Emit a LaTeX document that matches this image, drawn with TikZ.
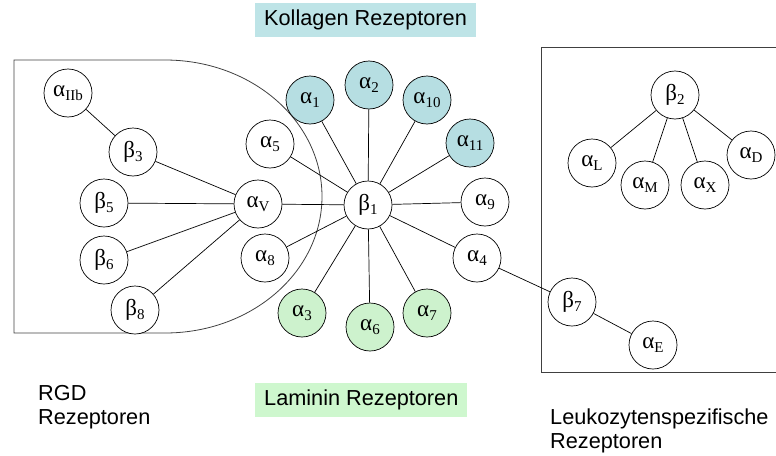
\documentclass[tikz,border=0pt]{standalone}
\usepackage{fontspec}
\usetikzlibrary{positioning}
\newfontfamily\tagfont{Liberation Sans}
\newfontfamily\symfont{Liberation Serif}
\definecolor{kollcyan}{RGB}{182,222,226}
\definecolor{kollbox}{RGB}{190,228,231}
\definecolor{lamgreen}{RGB}{205,242,205}
\definecolor{lambox}{RGB}{206,247,206}
\newcommand{\intg}[2]{#1\raisebox{-0.4ex}{\fontsize{15}{15}\selectfont #2}}
\tikzset{
  x=1pt, y=-1pt,
  rez/.style={draw, circle, minimum size=48pt, inner sep=0pt, fill=white, line width=0.7pt,
    font=\symfont\fontsize{23}{26}\selectfont},
  koll/.style={rez, fill=kollcyan},
  lam/.style={rez, fill=lamgreen},
  tag/.style={font=\tagfont\fontsize{21.7}{24}\selectfont, inner xsep=9pt, minimum height=34pt},
  caption/.style={font=\tagfont\fontsize{21.7}{24}\selectfont, align=left, inner sep=0pt},
  link/.style={line width=0.7pt},
  frame/.style={line width=0.8pt, black!75}
}

\begin{document}
\begin{tikzpicture}
  \useasboundingbox (0,0) rectangle (776,455);

  % frames
  \draw[frame] (165,60) -- (14,60) -- (14,333) -- (165,333)
    arc[start angle=-90, end angle=90, x radius=157pt, y radius=136.5pt];
  \draw[frame] (776,47) -- (541,47) -- (541,372) -- (776,372);

  % beta1 star
  \node[rez] (b1) at (368,205) {\intg{β}{1}};
  \node[koll] (a1) at (310,100) {\intg{α}{1}};
  \node[koll] (a2) at (369,85) {\intg{α}{2}};
  \node[koll] (a10) at (427,100) {\intg{α}{10}};
  \node[koll] (a11) at (470,143) {\intg{α}{11}};
  \node[rez] (a9) at (485,202) {\intg{α}{9}};
  \node[rez] (a4) at (477,258) {\intg{α}{4}};
  \node[lam] (a7) at (427,313) {\intg{α}{7}};
  \node[lam] (a6) at (370,327) {\intg{α}{6}};
  \node[lam] (a3) at (302,313) {\intg{α}{3}};
  \node[rez] (a8) at (265,258) {\intg{α}{8}};
  \node[rez] (a5) at (270,144) {\intg{α}{5}};
  \node[rez] (aV) at (258,204) {\intg{α}{V}};

  % RGD group
  \node[rez] (aIIb) at (68,93) {\intg{α}{IIb}};
  \node[rez] (b3) at (133,152) {\intg{β}{3}};
  \node[rez] (b5) at (104,203) {\intg{β}{5}};
  \node[rez] (b6) at (104,260) {\intg{β}{6}};
  \node[rez] (b8) at (135,310) {\intg{β}{8}};

  % leukocyte group
  \node[rez] (b2) at (675,95) {\intg{β}{2}};
  \node[rez] (aL) at (592,163) {\intg{α}{L}};
  \node[rez] (aM) at (645,185) {\intg{α}{M}};
  \node[rez] (aX) at (705,185) {\intg{α}{X}};
  \node[rez] (aD) at (751,155) {\intg{α}{D}};
  \node[rez] (b7) at (572,302) {\intg{β}{7}};
  \node[rez] (aE) at (653,345) {\intg{α}{E}};

  \path[link]
    (b1) edge (a1) (b1) edge (a2) (b1) edge (a10) (b1) edge (a11)
    (b1) edge (a9) (b1) edge (a4) (b1) edge (a7) (b1) edge (a6)
    (b1) edge (a3) (b1) edge (a8) (b1) edge (a5) (b1) edge (aV)
    (aV) edge (b3) (aV) edge (b5) (aV) edge (b6) (aV) edge (b8)
    (b3) edge (aIIb)
    (a4) edge (b7) (b7) edge (aE)
    (b2) edge (aL) (b2) edge (aM) (b2) edge (aX) (b2) edge (aD)
  ;

  % labels
  \node[tag, fill=kollbox, anchor=west] (kolltag) at (255,20) {Kollagen Rezeptoren};
  \node[tag, fill=lambox, anchor=west] (lamtag) at (255,400) {Laminin Rezeptoren};
  \node[caption, anchor=north west] (rgdtag) at (38,385) {RGD\\Rezeptoren};
  \node[caption, anchor=north west] (leutag) at (550,409) {Leukozytenspezifische\\Rezeptoren};
\end{tikzpicture}
\end{document}
